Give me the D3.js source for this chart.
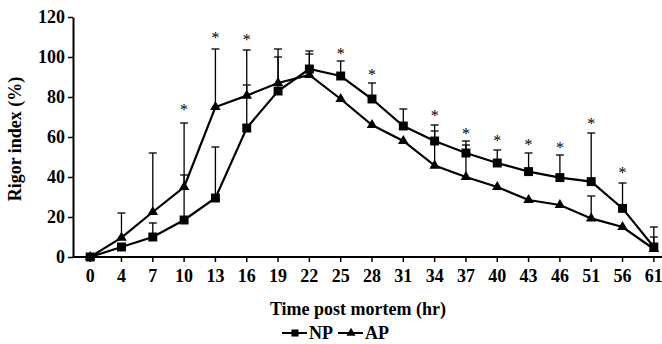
<!DOCTYPE html>
<html>
<head>
<meta charset="utf-8">
<script src="https://cdn.jsdelivr.net/npm/d3@7/dist/d3.min.js"></script>
<style>
body { margin: 0; background: #fff; }
text { font-family: "Liberation Serif", "Times New Roman", serif; font-weight: bold; fill: #000; }
</style>
</head>
<body>
<script>
// time points (categories) and rigor index means
var times = ["0", "4", "7", "10", "13", "16", "19", "22", "25", "28", "31", "34", "37", "40", "43", "46", "51", "56", "61"];
var np = [0, 5, 10, 18.5, 29.5, 64.5, 83, 94, 90.5, 79, 65.5, 58, 52, 47, 42.7, 39.7, 37.7, 24.3, 5];
var ap = [0, 9.7, 22.5, 35, 75, 80.7, 87, 91, 79, 66, 58, 45.7, 40, 35, 28.5, 26, 19.3, 15, 4];
// upper error bars (SD)
var npErr = [0, 0, 7, 22.5, 25.5, 21.5, 17, 9, 7.5, 8, 8.5, 8, 6, 6.5, 9.3, 11.3, 24.3, 12.7, 10];
var apErr = [0, 12.3, 29.5, 32, 29, 22.8, 17, 10.5, 0, 0, 0, 17.3, 16, 0, 0, 0, 11.2, 0, 6];
// significance stars
var starTimes = ["10", "13", "16", "25", "28", "34", "37", "40", "43", "46", "51", "56"];
var starVals = [75.5, 111.5, 110.5, 103.5, 93, 72.5, 63.5, 60, 58, 56.5, 68.5, 44];
var yTicks = [0, 20, 40, 60, 80, 100, 120];
var seriesNames = ["NP", "AP"];

var width = 662,
    height = 344;

var svg = d3.select("body").append("svg")
    .attr("width", width)
    .attr("height", height);

var x = d3.scaleBand()
    .domain(times)
    .range([74.5, 669.5]);
var y = d3.scaleLinear()
    .domain([0, 120])
    .range([257, 17]);

function cx(t) { return x(t) + x.bandwidth() / 2; }

// axes
var yAxis = svg.append("g")
    .attr("transform", "translate(73,0)")
    .call(d3.axisLeft(y).tickValues(yTicks).tickSize(5).tickSizeOuter(0).tickPadding(3));
yAxis.selectAll("text").style("font-size", "18px").style("font-family", null);
yAxis.select(".domain").attr("stroke-width", 2);
yAxis.selectAll(".tick line").attr("stroke-width", 1.5);

var xAxis = svg.append("g")
    .attr("transform", "translate(0,257)")
    .call(d3.axisBottom(x).tickSize(5).tickSizeOuter(0).tickPadding(7));
xAxis.selectAll("text").style("font-size", "18px").style("font-family", null);
xAxis.select(".domain").attr("d", "M73,0H" + width).attr("stroke-width", 2);
xAxis.selectAll(".tick line").attr("stroke-width", 1.5);

// axis titles
svg.append("text")
    .attr("x", 358)
    .attr("y", 315)
    .attr("text-anchor", "middle")
    .style("font-size", "18px")
    .text("Time post mortem (hr)");

svg.append("text")
    .attr("transform", "translate(21,139) rotate(-90)")
    .attr("text-anchor", "middle")
    .style("font-size", "18px")
    .text("Rigor index (%)");

// error bars (upper only)
function errBars(vals, errs) {
    var g = svg.append("g").attr("stroke", "#000").attr("stroke-width", 1.3);
    times.forEach(function (t, i) {
        if (!errs[i]) return;
        var top = y(vals[i] + errs[i]);
        g.append("line").attr("x1", cx(t)).attr("x2", cx(t)).attr("y1", y(vals[i])).attr("y2", top);
        g.append("line").attr("x1", cx(t) - 4).attr("x2", cx(t) + 4).attr("y1", top).attr("y2", top);
    });
}
errBars(np, npErr);
errBars(ap, apErr);

var line = d3.line()
    .x(function (d, i) { return cx(times[i]); })
    .y(function (d) { return y(d); });

[np, ap].forEach(function (data) {
    svg.append("path")
        .attr("d", line(data))
        .attr("fill", "none")
        .attr("stroke", "#000")
        .attr("stroke-width", 2.2);
});

var square = d3.symbol(d3.symbolSquare, 80);
var triangle = d3.symbol(d3.symbolTriangle, 48);

svg.append("g").selectAll("path")
    .data(np)
    .enter().append("path")
    .attr("d", square)
    .attr("transform", function (d, i) { return "translate(" + cx(times[i]) + "," + y(d) + ")"; });

svg.append("g").selectAll("path")
    .data(ap)
    .enter().append("path")
    .attr("d", triangle)
    .attr("transform", function (d, i) { return "translate(" + cx(times[i]) + "," + y(d) + ")"; });

// stars
svg.append("g").selectAll("text")
    .data(starTimes)
    .enter().append("text")
    .attr("x", function (d) { return cx(d); })
    .attr("y", function (d, i) { return y(starVals[i]) + 9; })
    .attr("text-anchor", "middle")
    .style("font-size", "16px")
    .style("font-weight", "normal")
    .text("*");

// legend
var legend = svg.append("g").attr("transform", "translate(282,333)");
var legendX = [0, 56];
seriesNames.forEach(function (name, i) {
    var g = legend.append("g").attr("transform", "translate(" + legendX[i] + ",0)");
    g.append("line").attr("x1", 0).attr("x2", 25).attr("stroke", "#000").attr("stroke-width", 2);
    g.append("path")
        .attr("d", i === 0 ? d3.symbol(d3.symbolSquare, 50)() : d3.symbol(d3.symbolTriangle, 36)())
        .attr("transform", "translate(13,0)");
    g.append("text")
        .attr("x", 27)
        .attr("y", 6)
        .style("font-size", "18px")
        .text(name);
});
</script>
</body>
</html>
